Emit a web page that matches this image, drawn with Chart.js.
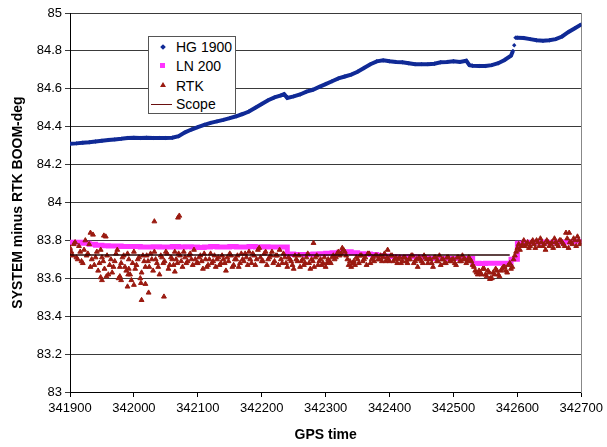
<!DOCTYPE html>
<html lang="en">
<head>
  <meta charset="UTF-8" />
  <title>SYSTEM minus RTK BOOM</title>
  <style>
    body { margin: 0; background: #fff; font-family: "Liberation Sans", Arial, sans-serif; }
    .wrap { position: relative; width: 607px; height: 447px; }
    #legend {
      position: absolute; left: 148px; top: 36px; width: 86px; height: 76px;
      border: 1px solid #555; background: #fff; font-size: 14px; color: #000;
    }
    #legend div { position: absolute; left: 27px; line-height: 16px; }
    #legend span { position: absolute; }
  </style>
</head>
<body>
<div class="wrap">
  <canvas id="chart" width="607" height="447"></canvas>
  <div id="legend">
    <span style="left:12px;top:8px;width:4px;height:4px;background:#102a96;transform:rotate(45deg)"></span>
    <div style="top:2px">HG 1900</div>
    <span style="left:11px;top:26px;width:5px;height:5px;background:#ff33ff"></span>
    <div style="top:21px">LN 200</div>
    <span style="left:11px;top:45px;width:0;height:0;border-left:3px solid transparent;border-right:3px solid transparent;border-bottom:5px solid #9a1a10"></span>
    <div style="top:41px">RTK</div>
    <span style="left:2px;top:67px;width:21px;height:1px;background:#6a1010"></span>
    <div style="top:59px">Scope</div>
  </div>
</div>

<script src="https://cdn.jsdelivr.net/npm/chart.js@4.4.3"></script>
<script>
  // HG 1900 – sampled every 10 s (null = gap at the jump)
  const hgTime = [341900, 341910, 341920, 341930, 341940, 341950, 341960, 341970, 341980, 341990,
    342000, 342010, 342020, 342030, 342040, 342050, 342060, 342070, 342080, 342090,
    342100, 342110, 342120, 342130, 342140, 342150, 342160, 342170, 342180, 342190,
    342200, 342210, 342220, 342230, 342235, 342240, 342250, 342260, 342270, 342280, 342290,
    342300, 342310, 342320, 342330, 342340, 342350, 342360, 342370, 342380, 342390,
    342400, 342410, 342420, 342430, 342440, 342450, 342460, 342470, 342480, 342490,
    342500, 342510, 342520, 342525, 342530, 342540, 342550, 342560, 342570, 342580, 342590,
    342593, 342594, 342595, 342596, 342597, 342600, 342610, 342620, 342630, 342640, 342650,
    342660, 342670, 342680, 342690, 342700];
  const hgVal = [84.31, 84.312, 84.315, 84.318, 84.322, 84.326, 84.33, 84.333, 84.336, 84.34,
    84.342, 84.34, 84.342, 84.34, 84.341, 84.34, 84.342, 84.35, 84.37, 84.385,
    84.398, 84.41, 84.42, 84.428, 84.436, 84.445, 84.455, 84.467, 84.48, 84.5,
    84.52, 84.54, 84.555, 84.565, 84.572, 84.552, 84.56, 84.57, 84.585, 84.595, 84.61,
    84.625, 84.64, 84.655, 84.665, 84.675, 84.69, 84.71, 84.73, 84.745, 84.75,
    84.745, 84.742, 84.74, 84.735, 84.73, 84.73, 84.73, 84.732, 84.74, 84.742,
    84.745, 84.742, 84.748, 84.725, 84.722, 84.72, 84.72, 84.725, 84.735, 84.752, 84.775,
    84.80, null, 84.83, null, 84.87, 84.87, 84.868, 84.862, 84.856, 84.853, 84.856,
    84.862, 84.876, 84.9, 84.92, 84.94];

  // LN 200 – sampled every 10 s
  const lnTime = [341900, 341910, 341920, 341930, 341940, 341950, 341960, 341970, 341980, 341990,
    342000, 342010, 342020, 342030, 342040, 342050, 342060, 342070, 342080, 342090,
    342100, 342110, 342120, 342130, 342140, 342150, 342160, 342170, 342180, 342190,
    342200, 342210, 342220, 342230, 342240, 342250, 342260, 342270, 342280, 342290,
    342300, 342310, 342320, 342330, 342340, 342350, 342360, 342370, 342380, 342390,
    342400, 342410, 342420, 342430, 342440, 342450, 342460, 342470, 342480, 342490,
    342500, 342510, 342520, 342530, 342540, 342550, 342560, 342570, 342580, 342590,
    342600, 342610, 342620, 342630, 342640, 342650, 342660, 342670, 342680, 342690, 342700];
  const lnVal = [83.79, 83.79, 83.785, 83.78, 83.775, 83.772, 83.77, 83.77, 83.768, 83.768,
    83.768, 83.765, 83.765, 83.767, 83.765, 83.765, 83.768, 83.765, 83.767, 83.765,
    83.762, 83.765, 83.768, 83.765, 83.765, 83.768, 83.765, 83.765, 83.768, 83.765,
    83.767, 83.765, 83.765, 83.765, 83.728, 83.725, 83.725, 83.725, 83.728, 83.73,
    83.732, 83.735, 83.738, 83.74, 83.735, 83.73, 83.728, 83.725, 83.72, 83.718,
    83.715, 83.712, 83.712, 83.715, 83.712, 83.71, 83.705, 83.705, 83.705, 83.705,
    83.705, 83.705, 83.705, 83.68, 83.678, 83.68, 83.68, 83.68, 83.68, 83.7,
    83.785, 83.79, 83.79, 83.792, 83.79, 83.79, 83.792, 83.79, 83.793, 83.795, 83.795];

  // RTK – one reading every 4 s from 341900
  const rtkStart = 341900, rtkStep = 4;
  const rtkVal = [
    83.76, 83.72, 83.79, 83.70, 83.74, 83.68, 83.80, 83.73, 83.66, 83.83,
    83.71, 83.64, 83.75, 83.69, 83.82, 83.62, 83.70, 83.66, 83.73, 83.60,
    83.68, 83.72, 83.64, 83.70, 83.59, 83.74, 83.67, 83.71, 83.63, 83.69,
    83.72, 83.66, 83.70, 83.74, 83.68, 83.62, 83.71, 83.69, 83.73, 83.67,
    83.70, 83.74, 83.68, 83.72, 83.66, 83.71, 83.69, 83.73, 83.67, 83.70,
    83.68, 83.72, 83.65, 83.70, 83.67, 83.73, 83.69, 83.66, 83.71, 83.68,
    83.70, 83.64, 83.69, 83.72, 83.67, 83.70, 83.66, 83.73, 83.69, 83.71,
    83.74, 83.68, 83.72, 83.70, 83.76, 83.69, 83.73, 83.67, 83.71, 83.74,
    83.69, 83.72, 83.75, 83.68, 83.71, 83.66, 83.70, 83.67, 83.72, 83.69,
    83.66, 83.70, 83.68, 83.73, 83.65, 83.69, 83.71, 83.67, 83.70, 83.68,
    83.66, 83.70, 83.68, 83.72, 83.71, 83.74, 83.73, 83.75, 83.72, 83.67,
    83.66, 83.69, 83.71, 83.68, 83.72, 83.70, 83.67, 83.73, 83.70, 83.69,
    83.72, 83.70, 83.69, 83.73, 83.71, 83.69, 83.72, 83.70, 83.68, 83.71,
    83.69, 83.71, 83.68, 83.70, 83.72, 83.69, 83.66, 83.70, 83.68, 83.71,
    83.68, 83.70, 83.66, 83.71, 83.69, 83.67, 83.70, 83.68, 83.71, 83.69,
    83.70, 83.67, 83.71, 83.69, 83.70, 83.68, 83.71, 83.69, 83.66, 83.63,
    83.64, 83.62, 83.65, 83.61, 83.63, 83.60, 83.62, 83.64, 83.61, 83.65,
    83.66, 83.63, 83.68, 83.66, 83.72, 83.76, 83.75, 83.78, 83.77, 83.79,
    83.77, 83.80, 83.76, 83.79, 83.81, 83.77, 83.75, 83.79, 83.78, 83.76,
    83.79, 83.77, 83.80, 83.78, 83.84, 83.76, 83.79, 83.81, 83.77, 83.80,
    83.79];
  // RTK – second set of readings, every 4 s from 341902
  const rtkStartB = 341902;
  const rtkValB = [
    83.74, 83.78, 83.71, 83.77, 83.69, 83.75, 83.72, 83.78, 83.70, 83.67,
    83.74, 83.68, 83.71, 83.65, 83.72, 83.67, 83.63, 83.69, 83.75, 83.66,
    83.71, 83.66, 83.73, 83.62, 83.68, 83.65, 83.70, 83.60, 83.72, 83.66,
    83.69, 83.73, 83.64, 83.70, 83.66, 83.72, 83.68, 83.74, 83.65, 83.71,
    83.67, 83.70, 83.73, 83.69, 83.74, 83.68, 83.72, 83.70, 83.75, 83.68,
    83.71, 83.69, 83.73, 83.66, 83.70, 83.68, 83.72, 83.70, 83.67, 83.72,
    83.68, 83.71, 83.73, 83.66, 83.70, 83.72, 83.68, 83.70, 83.73, 83.67,
    83.70, 83.73, 83.67, 83.75, 83.71, 83.69, 83.74, 83.70, 83.72, 83.68,
    83.72, 83.67, 83.70, 83.73, 83.68, 83.71, 83.69, 83.65, 83.70, 83.72,
    83.69, 83.67, 83.71, 83.68, 83.70, 83.66, 83.72, 83.69, 83.67, 83.71,
    83.68, 83.69, 83.71, 83.70, 83.73, 83.72, 83.76, 83.74, 83.70, 83.69,
    83.68, 83.67, 83.70, 83.72, 83.69, 83.71, 83.73, 83.68, 83.71, 83.72,
    83.70, 83.72, 83.71, 83.69, 83.70, 83.72, 83.69, 83.71, 83.70, 83.68,
    83.71, 83.69, 83.70, 83.72, 83.68, 83.70, 83.71, 83.69, 83.72, 83.70,
    83.70, 83.68, 83.71, 83.69, 83.72, 83.70, 83.68, 83.71, 83.69, 83.70,
    83.68, 83.71, 83.69, 83.72, 83.70, 83.69, 83.70, 83.67, 83.64, 83.62,
    83.63, 83.65, 83.62, 83.64, 83.60, 83.63, 83.65, 83.62, 83.64, 83.66,
    83.64, 83.67, 83.65, 83.70, 83.74, 83.78, 83.77, 83.80, 83.78, 83.76,
    83.79, 83.78, 83.80, 83.77, 83.79, 83.78, 83.80, 83.77, 83.79, 83.81,
    83.78, 83.80, 83.79, 83.77, 83.81, 83.79, 83.78, 83.80, 83.82, 83.78];
  // RTK readings off the regular grid (spikes)
  const rtkExtraTime = [341932, 341953, 341948, 341957, 341950, 341978, 341980, 341990, 342000, 342011,
    342012, 342018, 342023, 342032, 342047, 341991, 342064, 341992, 342069, 342071, 342281, 342397, 342557, 342681];
  const rtkExtraVal = [83.84, 83.825, 83.605, 83.61, 83.59, 83.61, 83.59, 83.556, 83.565, 83.575,
    83.485, 83.57, 83.524, 83.90, 83.503, 83.62, 83.635, 83.65, 83.92, 83.93, 83.786, 83.75, 83.596, 83.84];

  // Scope reference level
  const scopeTime = [341900, 342588];
  const scopeVal = [83.723, 83.723];

  const xTicks = { min: 341900, max: 342700, step: 100 };
  const yTicks = { min: 83, max: 85, step: 0.2 };

  const pts = (t, v) => t.map((x, i) => ({ x: x, y: v[i] }));
  const rtkPts = rtkVal.map((v, i) => ({ x: rtkStart + i * rtkStep, y: v }))
    .concat(rtkValB.map((v, i) => ({ x: rtkStartB + i * rtkStep, y: v })))
    .concat(pts(rtkExtraTime, rtkExtraVal));

  const font = { family: '"Liberation Sans", Arial, sans-serif', size: 13 };
  const titleFont = { family: '"Liberation Sans", Arial, sans-serif', size: 14, weight: 'bold' };

  new Chart(document.getElementById('chart'), {
    type: 'scatter',
    data: {
      datasets: [
        {
          label: 'Scope', data: pts(scopeTime, scopeVal), showLine: true,
          borderColor: '#2a0505', borderWidth: 1.5, pointRadius: 0, order: 0
        },
        {
          label: 'RTK', data: rtkPts, pointStyle: 'triangle', pointRadius: 2.8,
          backgroundColor: '#9a1a10', borderColor: '#9a1a10', borderWidth: 1, order: 1
        },
        {
          label: 'LN 200', data: pts(lnTime, lnVal), showLine: true, stepped: true,
          borderColor: '#ff33ff', borderWidth: 5, pointStyle: 'rect', pointRadius: 2,
          backgroundColor: '#ff33ff', pointBorderWidth: 0, order: 2
        },
        {
          label: 'HG 1900', data: pts(hgTime, hgVal), showLine: true, spanGaps: false,
          borderColor: '#102a96', borderWidth: 4, pointStyle: 'rectRot', pointRadius: 2.2,
          backgroundColor: '#102a96', pointBorderWidth: 0, order: 3
        }
      ]
    },
    options: {
      responsive: false,
      animation: false,
      layout: { padding: { top: 13, left: 0, right: 0, bottom: 0 } },
      plugins: { legend: { display: false }, tooltip: { enabled: false } },
      scales: {
        x: {
          type: 'linear', min: xTicks.min, max: xTicks.max,
          ticks: { stepSize: xTicks.step, callback: v => String(v), color: '#000', font: font, padding: 4, maxRotation: 0 },
          grid: { drawOnChartArea: false, color: '#000', tickLength: 5 },
          border: { color: '#000' },
          title: { display: true, text: 'GPS time', color: '#000', font: titleFont, padding: { top: 6, bottom: 3 } },
          afterFit: s => { s.height = 55; }
        },
        y: {
          min: yTicks.min, max: yTicks.max,
          ticks: { stepSize: yTicks.step, callback: v => String(Number(v.toFixed(1))), color: '#000', font: font, padding: 3 },
          grid: { color: '#3a3a3a', tickLength: 5 },
          border: { color: '#000' },
          title: { display: true, text: 'SYSTEM minus RTK BOOM-deg', color: '#000', font: titleFont, padding: { top: 10, bottom: 0 } },
          afterFit: s => { s.width = 70; }
        },
        yRight: {
          position: 'right', min: yTicks.min, max: yTicks.max,
          ticks: { display: false },
          grid: { drawOnChartArea: false, drawTicks: false },
          border: { color: '#888' },
          afterFit: s => { s.width = 22; }
        }
      }
    }
  });
</script>
</body>
</html>
